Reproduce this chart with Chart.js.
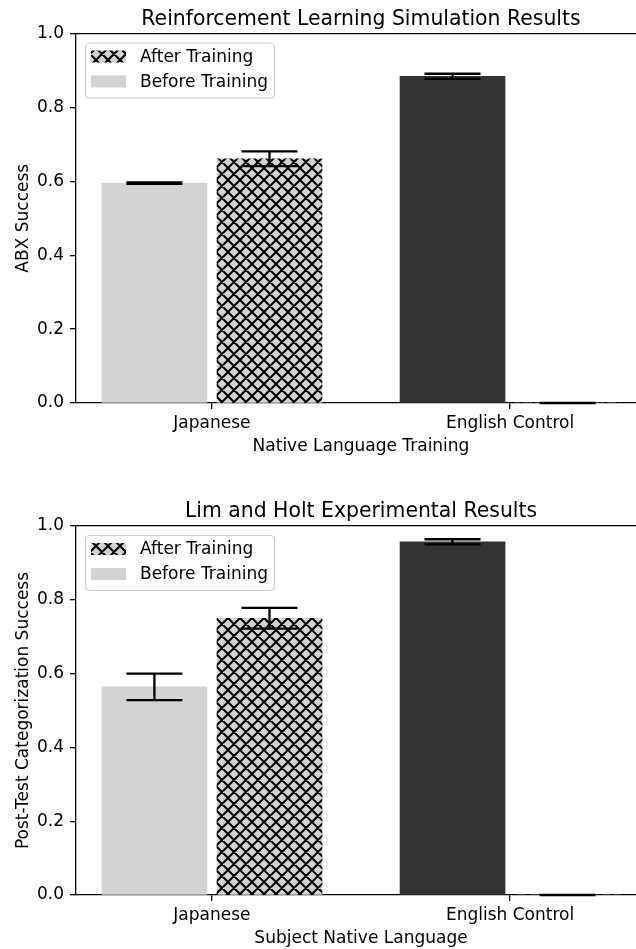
<!DOCTYPE html>
<html>
<head>
<meta charset="utf-8">
<script src="https://cdn.jsdelivr.net/npm/chart.js@4.4.1/dist/chart.umd.min.js"></script>
<style>
    html, body { margin: 0; padding: 0; background: #fff; overflow: hidden; }
    #wrap { width: 636px; height: 949px; overflow: hidden; }
    canvas { display: block; }
</style>
</head>
<body>
<div id="wrap">
    <canvas id="simChart" width="660" height="474"></canvas>
    <canvas id="expChart" width="660" height="475"></canvas>
</div>
<script>
// Datos
const categories = ['Japanese', 'English Control'];
const beforeLabel = 'Before Training';
const afterLabel = 'After Training';
const yTicks = [0.0, 0.2, 0.4, 0.6, 0.8, 1.0];

// Simulación de aprendizaje por refuerzo
const simBefore = [0.595, 0.884];
const simBeforeErr = [0.002, 0.007];
const simAfter = [0.661, 0.0];
const simAfterErr = [0.020, 0.0];

// Resultados experimentales de Lim y Holt
const expBefore = [0.564, 0.957];
const expBeforeErr = [0.036, 0.007];
const expAfter = [0.750, 0.0];
const expAfterErr = [0.028, 0.0];

const LIGHT = '#d3d3d3';
const DARK = '#333333';
const FONT = "'DejaVu Sans', sans-serif";
const OFFSET = 0.193;
const X_MIN = -0.456;
const X_MAX = 1.456;

Chart.defaults.font.family = FONT;
Chart.defaults.font.size = 17;
Chart.defaults.color = '#000';

// Patrón de rayado cruzado tipo 'xx'
function makeHatch(bg) {
    const s = 12;
    const c = document.createElement('canvas');
    c.width = s;
    c.height = s;
    const g = c.getContext('2d');
    g.fillStyle = bg;
    g.fillRect(0, 0, s, s);
    g.strokeStyle = '#000';
    g.lineWidth = 2;
    g.beginPath();
    for (let k = -1; k <= 1; k++) {
        g.moveTo(-1, -1 + k * s);
        g.lineTo(s + 1, s + 1 + k * s);
        g.moveTo(s + 1, -1 + k * s);
        g.lineTo(-1, s + 1 + k * s);
    }
    g.stroke();
    return g.createPattern(c, 'repeat');
}

const hatch = makeHatch(LIGHT);

// Barras de error con tapas
const errorBarPlugin = {
    id: 'errorBars',
    afterDatasetsDraw(chart) {
        const { ctx, scales: { x, y } } = chart;
        ctx.save();
        ctx.strokeStyle = '#000';
        ctx.lineWidth = 2.3;
        chart.data.datasets.forEach(ds => {
            ds.data.forEach((pt, j) => {
                const err = ds.errors[j];
                const cx = x.getPixelForValue(pt.x);
                const top = y.getPixelForValue(pt.y + err);
                const bot = y.getPixelForValue(pt.y - err);
                ctx.beginPath();
                ctx.moveTo(cx, top);
                ctx.lineTo(cx, bot);
                ctx.moveTo(cx - 28, top);
                ctx.lineTo(cx + 28, top);
                ctx.moveTo(cx - 28, bot);
                ctx.lineTo(cx + 28, bot);
                ctx.stroke();
            });
        });
        ctx.restore();
    }
};

// Leyenda dentro del área del gráfico (estilo matplotlib)
const boxLegendPlugin = {
    id: 'boxLegend',
    afterDraw(chart) {
        const { ctx, chartArea } = chart;
        const items = chart.data.datasets.slice().reverse();
        const x0 = chartArea.left + 9;
        const y0 = chartArea.top + 9;
        ctx.save();
        ctx.fillStyle = 'rgba(255,255,255,0.8)';
        ctx.strokeStyle = '#cccccc';
        ctx.lineWidth = 1.2;
        ctx.beginPath();
        ctx.roundRect(x0 + 0.5, y0 + 0.5, 189, 55, 4);
        ctx.fill();
        ctx.stroke();
        items.forEach((ds, i) => {
            const cy = y0 + 14 + i * 25;
            ctx.fillStyle = ds.legendFill;
            ctx.fillRect(x0 + 6, cy - 6, 35, 12);
            ctx.fillStyle = '#000';
            ctx.font = '17px ' + FONT;
            ctx.textBaseline = 'middle';
            ctx.textAlign = 'left';
            ctx.fillText(ds.label, x0 + 55, cy + 1);
        });
        ctx.restore();
    }
};

function buildChart(id, cfg) {
    const ctx = document.getElementById(id).getContext('2d');
    const axisLine = { display: true, color: '#000', width: 1.3 };
    const tickMarks = { display: true, offset: false, drawOnChartArea: false, drawTicks: true, tickLength: 6, color: '#000', lineWidth: 1.3 };

    return new Chart(ctx, {
        type: 'bar',
        data: {
            datasets: [
                {
                    label: beforeLabel,
                    data: cfg.before.map((v, i) => ({ x: i - OFFSET, y: v })),
                    errors: cfg.beforeErr,
                    backgroundColor: categories.map((c, i) => i === 0 ? LIGHT : DARK),
                    legendFill: LIGHT
                },
                {
                    label: afterLabel,
                    data: cfg.after.map((v, i) => ({ x: i + OFFSET, y: v })),
                    errors: cfg.afterErr,
                    backgroundColor: hatch,
                    legendFill: hatch
                }
            ]
        },
        options: {
            responsive: false,
            animation: false,
            grouped: false,
            barThickness: 105,
            borderWidth: 0,
            layout: { padding: { left: 0, right: 14, top: 0, bottom: 0 } },
            plugins: {
                legend: { display: false },
                tooltip: { enabled: false },
                title: {
                    display: true,
                    text: cfg.title,
                    fullSize: false,
                    color: '#000',
                    font: { size: 20.4, weight: 'normal' },
                    padding: { top: cfg.titleTop, bottom: cfg.titleBottom }
                }
            },
            scales: {
                x: {
                    type: 'linear',
                    offset: false,
                    min: X_MIN,
                    max: X_MAX,
                    afterBuildTicks: s => { s.ticks = categories.map((c, i) => ({ value: i })); },
                    afterFit: s => { s.height = cfg.xAxisHeight; },
                    ticks: { callback: v => categories[v], padding: 4, maxRotation: 0, autoSkip: false },
                    grid: tickMarks,
                    border: axisLine,
                    title: { display: true, text: cfg.xTitle, padding: { top: 0, bottom: cfg.xTitleBottom } }
                },
                xTop: {
                    type: 'linear',
                    position: 'top',
                    offset: false,
                    min: X_MIN,
                    max: X_MAX,
                    ticks: { display: false },
                    grid: { display: false },
                    border: axisLine,
                    afterFit: s => { s.height = 0; }
                },
                y: {
                    min: 0,
                    max: 1,
                    afterBuildTicks: s => { s.ticks = yTicks.map(v => ({ value: v })); },
                    afterFit: s => { s.width = 76; },
                    ticks: { callback: v => v.toFixed(1), padding: 6 },
                    grid: tickMarks,
                    border: axisLine,
                    title: { display: true, text: cfg.yTitle, padding: { top: 13, bottom: 0 } }
                }
            }
        },
        plugins: [errorBarPlugin, boxLegendPlugin]
    });
}

buildChart('simChart', {
    title: 'Reinforcement Learning Simulation Results',
    xTitle: 'Native Language Training',
    yTitle: 'ABX Success',
    before: simBefore, beforeErr: simBeforeErr,
    after: simAfter, afterErr: simAfterErr,
    titleTop: 7, titleBottom: 2,
    xAxisHeight: 71, xTitleBottom: 17
});

buildChart('expChart', {
    title: 'Lim and Holt Experimental Results',
    xTitle: 'Subject Native Language',
    yTitle: 'Post-Test Categorization Success',
    before: expBefore, beforeErr: expBeforeErr,
    after: expAfter, afterErr: expAfterErr,
    titleTop: 25, titleBottom: 2.5,
    xAxisHeight: 54, xTitleBottom: 0
});
</script>
</body>
</html>
